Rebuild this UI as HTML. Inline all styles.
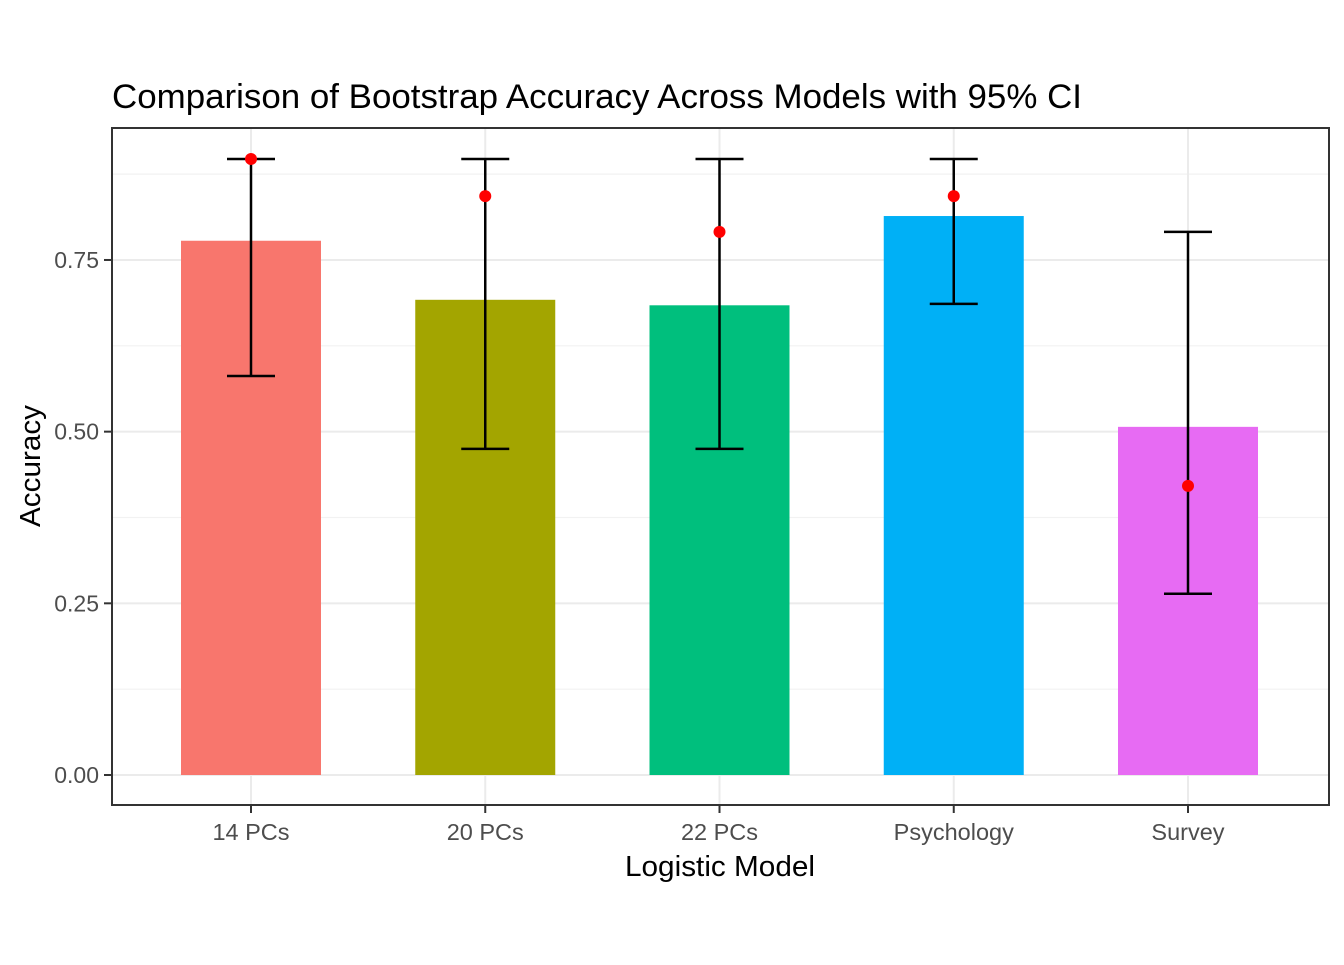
<!DOCTYPE html>
<html><head><meta charset="utf-8"><style>
body{margin:0;background:#fff}
svg text{font-family:"Liberation Sans",Arial,sans-serif}
</style></head><body>
<svg id="chart" width="1344" height="960" viewBox="0 0 1344 960" xmlns="http://www.w3.org/2000/svg">
<rect width="1344" height="960" fill="#fff"/>
<text x="112" y="108" font-size="34" textLength="970" lengthAdjust="spacingAndGlyphs" fill="#000">Comparison of Bootstrap Accuracy Across Models with 95% CI</text>
<g id="grid"></g>
<g id="bars"></g>
<g id="errs"></g>
<g id="pts"></g>
<rect x="112" y="128" width="1217" height="677" fill="none" stroke="#333" stroke-width="2"/>
<g id="axes"></g>
<text x="720" y="876" font-size="29" textLength="190" lengthAdjust="spacingAndGlyphs" text-anchor="middle" fill="#000">Logistic Model</text>
<text transform="translate(40,466) rotate(-90)" font-size="29" textLength="122" lengthAdjust="spacingAndGlyphs" text-anchor="middle" fill="#000">Accuracy</text>
</svg>
<script>
const categories=["14 PCs","20 PCs","22 PCs","Psychology","Survey"];
const accuracy=[0.778,0.692,0.684,0.814,0.507];
const ciLower=[0.581,0.475,0.475,0.686,0.264];
const ciUpper=[0.897,0.897,0.897,0.897,0.791];
const pointEstimate=[0.897,0.843,0.791,0.843,0.421];
const colors=["#F8766D","#A3A500","#00BF7D","#00B0F6","#E76BF3"];
const yTicks=[0,0.25,0.5,0.75];
const yTickLabels=["0.00","0.25","0.50","0.75"];
const yMinor=[0.125,0.375,0.625,0.875];

const NS="http://www.w3.org/2000/svg";
const y=v=>775-v*686.7;
const x=i=>251+i*234.25;
function mk(tag,attrs,parent){const e=document.createElementNS(NS,tag);for(const k in attrs)e.setAttribute(k,attrs[k]);document.getElementById(parent).appendChild(e);return e;}
yMinor.forEach(v=>{const l=mk('line',{x1:112,x2:1329,y1:y(v),y2:y(v),stroke:'#f2f2f2','stroke-width':1.2},'grid');

});
yTicks.forEach((v,i)=>{const l=mk('line',{x1:112,x2:1329,y1:y(v),y2:y(v),stroke:'#ebebeb','stroke-width':2},'grid');


const t=mk('line',{x1:104,x2:112,y1:y(v),y2:y(v),stroke:'#333','stroke-width':2},'axes');


const tx=mk('text',{x:99,y:y(v)+8,'font-size':23,'text-anchor':'end',fill:'#4d4d4d'},'axes');tx.textContent=yTickLabels[i];

});
categories.forEach((c,i)=>{const l=mk('line',{x1:x(i),x2:x(i),y1:128,y2:805,stroke:'#ebebeb','stroke-width':2},'grid');


const b=mk('rect',{x:x(i)-70,width:140,y:y(accuracy[i]),height:y(0)-y(accuracy[i]),fill:colors[i]},'bars');


const g=mk('path',{d:`M${x(i)-24},${y(ciUpper[i])}H${x(i)+24}M${x(i)},${y(ciUpper[i])}V${y(ciLower[i])}M${x(i)-24},${y(ciLower[i])}H${x(i)+24}`,stroke:'#000','stroke-width':2.5,fill:'none'},'errs');


const p=mk('circle',{cx:x(i),cy:y(pointEstimate[i]),r:6,fill:'#f00'},'pts');


const t=mk('line',{x1:x(i),x2:x(i),y1:805,y2:813,stroke:'#333','stroke-width':2},'axes');


const tx=mk('text',{x:x(i),y:840,'font-size':23.5,'text-anchor':'middle',fill:'#4d4d4d'},'axes');tx.textContent=c;

});
</script>
</body></html>
